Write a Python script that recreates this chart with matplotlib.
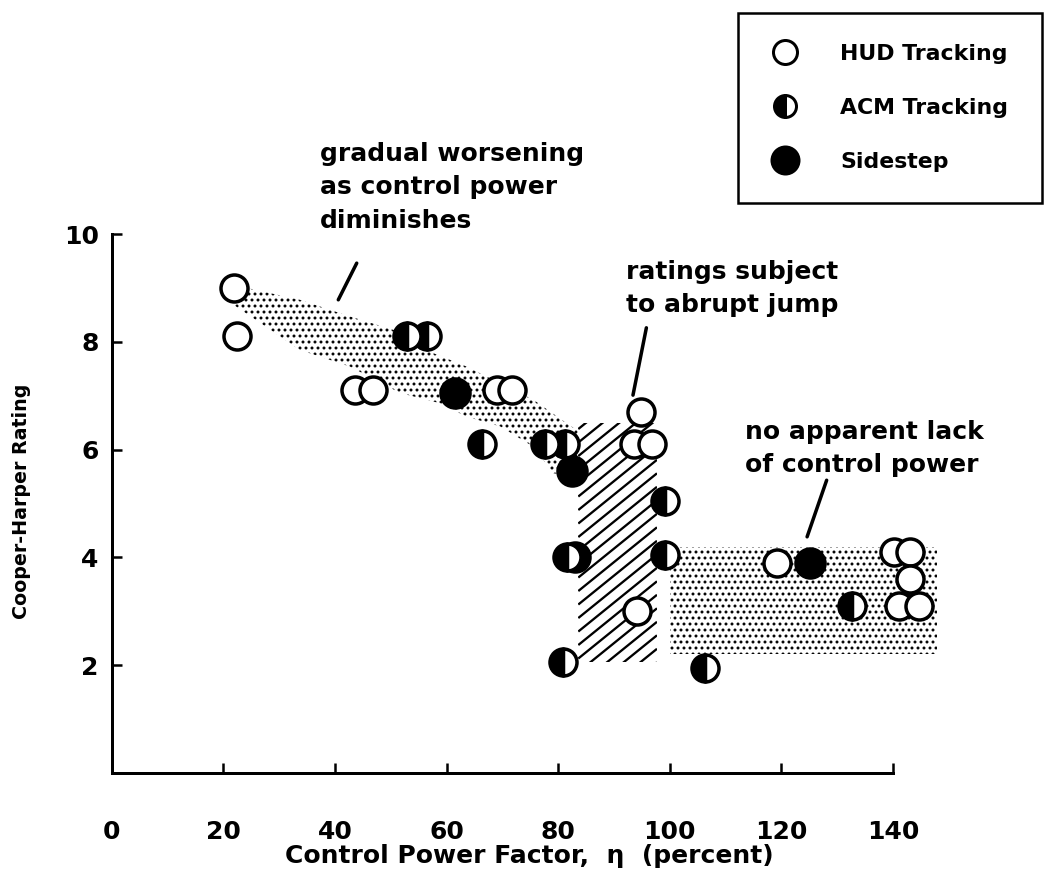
import numpy as np
import matplotlib
matplotlib.use("Agg")
import matplotlib.pyplot as plt
from matplotlib.patches import Polygon, Rectangle
from matplotlib.lines import Line2D
from matplotlib.collections import LineCollection

# ---- data -------------------------------------------------------------
hud_x = [22.0, 22.5, 43.6, 46.9, 69.0, 71.7, 94.8, 93.5, 96.8, 94.1,
         119.2, 140.1, 143.1, 143.1, 141.0, 144.6]
hud_y = [9.0, 8.1, 7.1, 7.1, 7.1, 7.1, 6.7, 6.1, 6.1, 3.0,
         3.9, 4.1, 4.1, 3.6, 3.1, 3.1]

acm_x = [52.9, 56.5, 66.3, 77.7, 81.2, 81.5, 99.2, 99.2, 80.9, 106.3, 132.6]
acm_y = [8.1, 8.1, 6.1, 6.1, 6.1, 4.0, 5.05, 4.05, 2.05, 1.95, 3.1]

side_x = [61.5, 82.4, 83.0, 125.1]
side_y = [7.05, 5.6, 4.0, 3.9]

x_ticks = [0, 20, 40, 60, 80, 100, 120, 140]
y_ticks = [2, 4, 6, 8, 10]

# shaded regions (data units)
band_top = [(24.2, 9.0), (33.7, 8.78), (42.7, 8.47), (50.5, 8.22), (57.6, 7.79),
            (63.6, 7.54), (69.6, 7.23), (75.6, 6.92), (81.5, 6.49), (83.5, 6.35)]
band_bottom = [(83.5, 5.5), (79.1, 5.56), (75.6, 6.05), (69.6, 6.43), (63.6, 6.61),
               (58.8, 6.86), (51.7, 7.05), (42.7, 7.54), (33.7, 7.85), (21.8, 8.69)]
jump_zone = (83.6, 97.7, 2.05, 6.5)       # x0, x1, y0, y1
steady_zone = (100.0, 147.8, 2.2, 4.2)

notes = [
    ("gradual worsening\nas control power\ndiminishes", 37.3, 10.87, (43.9, 9.46), (40.6, 8.78)),
    ("ratings subject\nto abrupt jump", 92.2, 8.99, (95.8, 8.26), (93.4, 7.01)),
    ("no apparent lack\nof control power", 113.5, 6.02, (128.1, 5.43), (124.6, 4.38)),
]

# ---- figure -----------------------------------------------------------
DPI = 72
W, H = 1045, 888
fig = plt.figure(figsize=(W / DPI, H / DPI), dpi=DPI)
ax = fig.add_axes([0.1069, 0.1298, 0.7477, 0.6066])

plt.rcParams["font.family"] = "DejaVu Sans"
FW = "bold"
DOT_LW = 1.75

with plt.rc_context({"hatch.linewidth": DOT_LW}):
    band = Polygon(band_top + band_bottom, closed=True, facecolor="white",
                   edgecolor="black", linewidth=0, hatch="..", zorder=1)
    sx0, sx1, sy0, sy1 = steady_zone
    steady = Rectangle((sx0, sy0), sx1 - sx0, sy1 - sy0, facecolor="white",
                       edgecolor="black", linewidth=0, hatch="..", zorder=1,
                       clip_on=False)
    for p in (band, steady):
        if hasattr(p, "set_hatch_linewidth"):
            p.set_hatch_linewidth(DOT_LW)
        ax.add_patch(p)

# diagonal hatching for the abrupt-jump zone, clipped to its rectangle
jx0, jx1, jy0, jy1 = jump_zone
jump = Rectangle((jx0, jy0), jx1 - jx0, jy1 - jy0, facecolor="white",
                 edgecolor="none", linewidth=0, zorder=1)
ax.add_patch(jump)
px_per_x = ax.get_position().width * W / 140.0
px_per_y = ax.get_position().height * H / 10.0
slope = np.tan(np.radians(39)) * px_per_x / px_per_y   # data-unit slope
step = 13.5 / px_per_y                                   # vertical spacing
offsets = np.arange(jy0 - slope * (jx1 - jx0), jy1 + step, step)
segs = [[(jx0, c), (jx1, c + slope * (jx1 - jx0))] for c in offsets]
hatch_lines = LineCollection(segs, colors="black", linewidths=2.3, zorder=1.5)
ax.add_collection(hatch_lines)
hatch_lines.set_clip_path(jump)

MS = 27
MEW = 3.5
ax.plot(side_x, side_y, linestyle="none", marker="o", ms=MS + 2, mew=MEW,
        mfc="black", mec="black", zorder=3, clip_on=False)
ax.plot(acm_x, acm_y, linestyle="none", marker="o", ms=MS, mew=MEW,
        fillstyle="left", mfc="black", mfcalt="white", mec="black",
        zorder=4, clip_on=False)
ax.plot(hud_x, hud_y, linestyle="none", marker="o", ms=MS, mew=MEW,
        mfc="white", mec="black", zorder=5, clip_on=False)

# annotations with pointer strokes
for text, tx, ty, p0, p1 in notes:
    ax.text(tx, ty, text, ha="left", va="center", fontsize=25,
            fontweight=FW, linespacing=1.5, clip_on=False)
    ax.plot([p0[0], p1[0]], [p0[1], p1[1]], color="black", lw=3.5,
            solid_capstyle="round", clip_on=False, zorder=6)

# axes styling
ax.set_xlim(0, 140)
ax.set_ylim(0, 10)
for side in ("top", "right"):
    ax.spines[side].set_visible(False)
for side in ("left", "bottom"):
    ax.spines[side].set_linewidth(3)
ax.set_xticks(x_ticks)
ax.set_yticks(y_ticks)
ax.set_xticklabels([str(v) for v in x_ticks], fontsize=25, fontweight=FW)
ax.set_yticklabels([str(v) for v in y_ticks], fontsize=25, fontweight=FW)
ax.tick_params(axis="x", direction="in", length=10, width=2.5, pad=47)
ax.tick_params(axis="y", direction="in", length=10, width=2.5, pad=13)

ax.set_xlabel("Control Power Factor,  η  (percent)", fontsize=25, fontweight=FW)
ax.xaxis.label.set_va("center")
ax.xaxis.set_label_coords(0.535, -0.155)
ax.set_ylabel("Cooper-Harper Rating", fontsize=19, fontweight=FW)
ax.yaxis.label.set_va("center")
ax.yaxis.set_label_coords(-0.115, 0.503)

# legend box in the upper-right corner
handles = [
    Line2D([], [], linestyle="none", marker="o", ms=24, mew=3, mfc="white", mec="black"),
    Line2D([], [], linestyle="none", marker="o", ms=22, mew=3, fillstyle="left",
           mfc="black", mfcalt="white", mec="black"),
    Line2D([], [], linestyle="none", marker="o", ms=28, mew=2, mfc="black", mec="black"),
]
labels = ["HUD Tracking", "ACM Tracking", "Sidestep"]
leg = fig.legend(handles, labels, loc="upper left",
                 bbox_to_anchor=(738 / W, 1 - 198 / H, 304 / W, 185 / H),
                 mode="expand", prop={"size": 22, "weight": FW},
                 frameon=True, fancybox=False, framealpha=1.0, borderpad=1.4,
                 labelspacing=1.55, handlelength=1.5, handletextpad=1.75,
                 borderaxespad=0)
leg.get_frame().set_edgecolor("black")
leg.get_frame().set_linewidth(2.5)

fig.savefig("out.png", dpi=DPI, facecolor="white")
